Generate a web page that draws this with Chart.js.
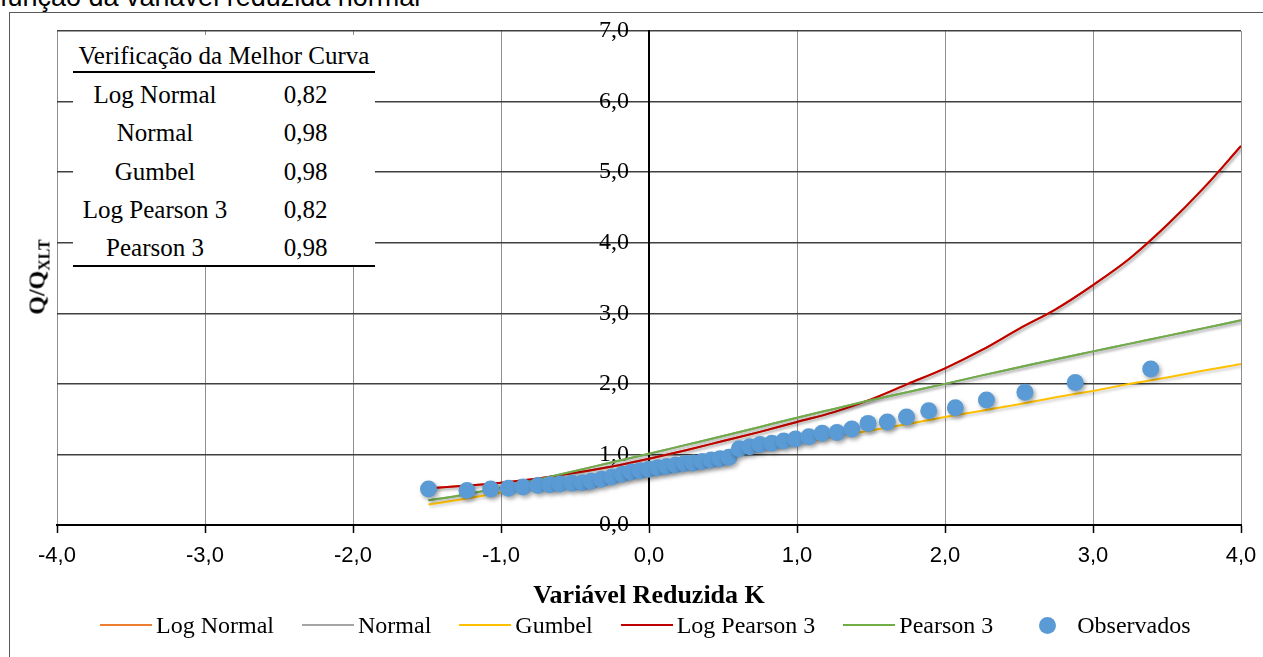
<!DOCTYPE html>
<html>
<head>
<meta charset="utf-8">
<script src="https://cdn.jsdelivr.net/npm/chart.js@4.4.1/dist/chart.umd.min.js"></script>
<style>
  body { margin: 0; background: #fff; }
  #wrap { position: relative; width: 1263px; height: 657px; overflow: hidden; }
  #moldura { position: absolute; left: 9px; top: 12px; width: 1300px; height: 700px; border: 1px solid #595959; box-sizing: border-box; }
  #grafico { position: absolute; left: 0; top: 0; }
  .serif { font-family: "Liberation Serif", "Times New Roman", serif; color: #000; }
  #titulo { position: absolute; left: 0; top: -18px; font: 27px/30px "Liberation Sans", Arial, sans-serif; white-space: nowrap; color: #000; }
  #tabela { position: absolute; left: 73px; top: 35px; width: 302px; height: 232px; background: #fff; }
  #tabela .cab { position: absolute; left: 0; width: 302px; top: 5.6px; text-align: center; font-size: 25px; line-height: 30px; white-space: nowrap; }
  #tabela .linha { position: absolute; left: 0; width: 302px; height: 2px; background: #000; }
  #tabela .nome, #tabela .valor { position: absolute; font-size: 25px; line-height: 30px; white-space: nowrap; transform: translateX(-50%); }
  #ytitulo { position: absolute; left: 38px; top: 277px; transform: translate(-50%, -50%) rotate(-90deg); font-weight: bold; font-size: 24px; line-height: 24px; white-space: nowrap; }
  #ytitulo .sub { font-size: 16px; position: relative; top: 5px; }
  #legenda { position: absolute; left: 100px; top: 610px; height: 30px; display: flex; gap: 28px; align-items: center; }
  #legenda .item { display: flex; align-items: center; font-size: 24px; line-height: 30px; white-space: nowrap; }
  #legenda .sym { width: 52px; height: 17px; margin-right: 4px; position: relative; }
  #legenda .sym.line::after { content: ""; position: absolute; left: 0; right: 0; top: 7.5px; height: 2px; background: var(--c); }
  #legenda .sym.dot::after { content: ""; position: absolute; left: 17.5px; top: 0; width: 17px; height: 17px; border-radius: 50%; background: var(--c); }
</style>
</head>
<body>
<div id="wrap">
  <div id="moldura"></div>
  <div id="titulo">função da variável reduzida normal</div>
  <canvas id="grafico" width="1263" height="657"></canvas>
  <div id="tabela" class="serif"></div>
  <div id="ytitulo" class="serif">Q/Q<span class="sub">XLT</span></div>
  <div id="legenda" class="serif"></div>
</div>
<script>
// observados: variavel reduzida K x Q/Qxlt
var kObs = [-1.49, -1.23, -1.07, -0.95, -0.85, -0.75, -0.67, -0.60, -0.52, -0.45,
  -0.39, -0.32, -0.25, -0.18, -0.12, -0.06, 0.00, 0.06, 0.12, 0.18,
  0.24, 0.30, 0.36, 0.42, 0.48, 0.54, 0.61, 0.68, 0.75, 0.83,
  0.91, 0.99, 1.08, 1.17, 1.27, 1.37, 1.48, 1.61, 1.74, 1.89,
  2.07, 2.28, 2.54, 2.88, 3.39];
var qObs = [0.51, 0.49, 0.51, 0.52, 0.54, 0.56, 0.57, 0.58, 0.59, 0.60,
  0.62, 0.65, 0.68, 0.72, 0.75, 0.77, 0.79, 0.81, 0.83, 0.85,
  0.87, 0.88, 0.90, 0.92, 0.94, 0.96, 1.08, 1.11, 1.14, 1.16,
  1.19, 1.22, 1.25, 1.30, 1.31, 1.36, 1.44, 1.46, 1.53, 1.62,
  1.66, 1.77, 1.88, 2.02, 2.21];

// curvas ajustadas
var kCurva = [-1.49, -1.25, -1.0, -0.75, -0.5, -0.25, 0, 0.25, 0.5, 0.75, 1.0, 1.25,
  1.5, 1.75, 2.0, 2.25, 2.5, 2.75, 3.0, 3.25, 3.5, 3.75, 4.0];
var qLogNormal = [0.52, 0.555, 0.60, 0.66, 0.74, 0.83, 0.94, 1.06, 1.19, 1.32, 1.46, 1.60,
  1.78, 2.00, 2.22, 2.48, 2.78, 3.06, 3.40, 3.78, 4.25, 4.78, 5.37];
var qNormal = [0.35, 0.43, 0.53, 0.645, 0.765, 0.89, 1.01, 1.135, 1.26, 1.39, 1.52, 1.645,
  1.77, 1.885, 2.00, 2.12, 2.235, 2.35, 2.46, 2.57, 2.68, 2.79, 2.90];
var qGumbel = [0.29, 0.37, 0.46, 0.55, 0.63, 0.72, 0.80, 0.89, 0.98, 1.07, 1.16, 1.25,
  1.34, 1.43, 1.53, 1.62, 1.71, 1.81, 1.90, 2.00, 2.09, 2.19, 2.28];
var qLogPearson3 = [0.52, 0.555, 0.60, 0.66, 0.74, 0.83, 0.94, 1.06, 1.19, 1.32, 1.46, 1.60,
  1.78, 2.00, 2.22, 2.48, 2.78, 3.06, 3.40, 3.78, 4.25, 4.78, 5.37];
var qPearson3 = [0.35, 0.43, 0.53, 0.645, 0.765, 0.89, 1.01, 1.135, 1.26, 1.39, 1.52, 1.645,
  1.77, 1.885, 2.00, 2.12, 2.235, 2.35, 2.46, 2.57, 2.68, 2.79, 2.90];

// tabela de verificacao
var nomesCurvas = ['Log Normal', 'Normal', 'Gumbel', 'Log Pearson 3', 'Pearson 3'];
var ajusteCurvas = ['0,82', '0,98', '0,98', '0,82', '0,98'];

function pares(xs, ys) {
  return xs.map(function (x, i) { return { x: x, y: ys[i] }; });
}
function virgula(v) {
  return Number(v).toFixed(1).replace('.', ',');
}

function curva(label, ys, cor, ordem) {
  return {
    label: label,
    data: pares(kCurva, ys),
    borderColor: cor,
    backgroundColor: cor,
    borderWidth: 2,
    showLine: true,
    pointRadius: 0,
    cubicInterpolationMode: 'monotone',
    order: ordem
  };
}

var sombra = {
  id: 'sombra',
  beforeDatasetDraw: function (chart, args) {
    var ctx = chart.ctx;
    ctx.save();
    if (args.meta.controller.getDataset().showLine) {
      ctx.shadowColor = 'rgba(0,0,0,0.22)';
      ctx.shadowBlur = 3;
      ctx.shadowOffsetX = 1.5;
      ctx.shadowOffsetY = 2;
    } else {
      ctx.shadowColor = 'rgba(0,0,0,0.35)';
      ctx.shadowBlur = 4;
      ctx.shadowOffsetX = 2;
      ctx.shadowOffsetY = 2.5;
    }
  },
  afterDatasetDraw: function (chart) {
    chart.ctx.restore();
  }
};

var chart = new Chart(document.getElementById('grafico'), {
  type: 'scatter',
  data: {
    datasets: [
      curva('Log Normal', qLogNormal, '#ED7D31', 6),
      curva('Normal', qNormal, '#A5A5A5', 5),
      curva('Gumbel', qGumbel, '#FFC000', 4),
      curva('Log Pearson 3', qLogPearson3, '#C00000', 3),
      curva('Pearson 3', qPearson3, '#70AD47', 2),
      {
        label: 'Observados',
        data: pares(kObs, qObs),
        backgroundColor: '#5B9BD5',
        borderColor: '#5B9BD5',
        borderWidth: 0,
        pointRadius: 8.5,
        showLine: false,
        order: 0
      }
    ]
  },
  options: {
    responsive: false,
    animation: false,
    layout: { padding: { left: 57, right: 22, top: 31, bottom: 43.4 } },
    plugins: {
      legend: { display: false },
      tooltip: { enabled: false }
    },
    scales: {
      x: {
        type: 'linear',
        min: -4,
        max: 4,
        position: 'bottom',
        ticks: {
          stepSize: 1,
          callback: virgula,
          color: '#000',
          padding: 10,
          maxRotation: 0,
          font: { family: 'Liberation Sans', size: 22 }
        },
        grid: { color: '#8e8e8e', lineWidth: 1, tickColor: '#000', tickLength: 8, tickWidth: 1.5 },
        border: { color: '#000', width: 2 },
        title: {
          display: true,
          text: 'Variável Reduzida K',
          color: '#000',
          font: { family: 'Liberation Serif', size: 26, weight: 'bold' },
          padding: { top: 1, bottom: 2 }
        },
        afterFit: function (s) { s.paddingLeft = 0; s.paddingRight = 0; }
      },
      y: {
        type: 'linear',
        min: 0,
        max: 7,
        position: { x: 0 },
        ticks: {
          stepSize: 1,
          // o rotulo fica encostado no eixo central; os espacos abrem a folga
          callback: function (v) { return virgula(v) + '\u2002\u2004'; },
          color: '#000',
          font: { family: 'Liberation Serif', size: 24 }
        },
        grid: { color: '#404040', lineWidth: 1.5, drawTicks: false },
        border: { color: '#000', width: 2 },
        afterFit: function (s) { s.paddingTop = 0; s.paddingBottom = 0; }
      }
    }
  },
  plugins: [sombra]
});

// tabela "Verificação da Melhor Curva"
var tabela = document.getElementById('tabela');
var cab = document.createElement('div');
cab.className = 'cab';
cab.textContent = 'Verificação da Melhor Curva';
tabela.appendChild(cab);
[36.3, 230].forEach(function (t) {
  var l = document.createElement('div');
  l.className = 'linha';
  l.style.top = t + 'px';
  tabela.appendChild(l);
});
nomesCurvas.forEach(function (nome, i) {
  var top = 44.9 + i * 38.33;
  var n = document.createElement('div');
  n.className = 'nome';
  n.style.left = '82px';
  n.style.top = top + 'px';
  n.textContent = nome;
  var v = document.createElement('div');
  v.className = 'valor';
  v.style.left = '232.5px';
  v.style.top = top + 'px';
  v.textContent = ajusteCurvas[i];
  tabela.appendChild(n);
  tabela.appendChild(v);
});

// legenda a partir dos datasets
var legenda = document.getElementById('legenda');
chart.data.datasets.forEach(function (ds) {
  var item = document.createElement('div');
  item.className = 'item';
  var sym = document.createElement('span');
  sym.className = ds.showLine ? 'sym line' : 'sym dot';
  sym.style.setProperty('--c', ds.showLine ? ds.borderColor : ds.backgroundColor);
  var txt = document.createElement('span');
  txt.textContent = ds.label;
  item.appendChild(sym);
  item.appendChild(txt);
  legenda.appendChild(item);
});
</script>
</body>
</html>
